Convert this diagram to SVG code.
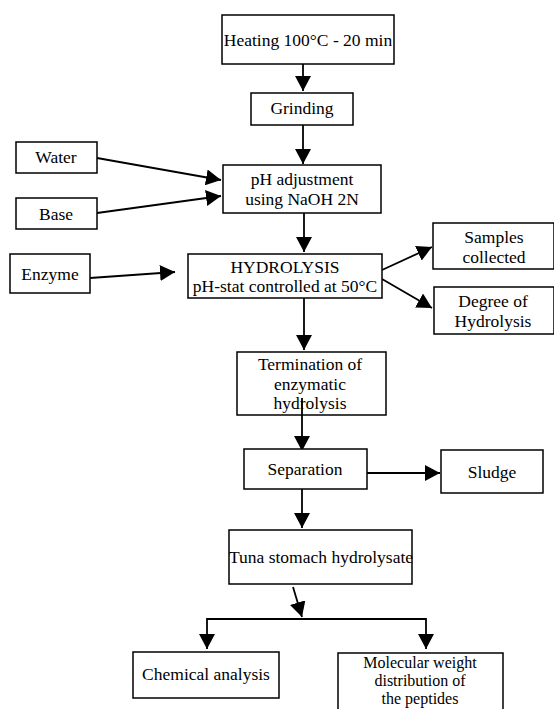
<svg xmlns="http://www.w3.org/2000/svg" width="554" height="709" viewBox="0 0 554 709">
<style>
.box{fill:#fff;stroke:#000;stroke-width:1.5}
.t{font-family:"Liberation Serif","Times New Roman",serif;font-size:17.5px;fill:#000;text-anchor:middle}
.s{font-size:16px}
.c{stroke:#000;stroke-width:1.8;fill:none}
.ca{stroke:#000;stroke-width:1.8;fill:none;marker-end:url(#ah)}
</style>
<defs>
<marker id="ah" viewBox="0 0 15 16" refX="15" refY="8" markerWidth="15" markerHeight="16" markerUnits="userSpaceOnUse" orient="auto">
<path d="M0,0 L15,8 L0,16 z" fill="#000"/>
</marker>
</defs>
<rect width="554" height="709" fill="#fff"/>
<g id="connectors">
<line class="ca" x1="303" y1="64" x2="303" y2="91"/>
<line class="ca" x1="303" y1="125" x2="303" y2="164"/>
<line class="ca" x1="97" y1="158" x2="221" y2="180"/>
<line class="ca" x1="97" y1="213" x2="221" y2="196"/>
<line class="ca" x1="304" y1="213" x2="304" y2="252"/>
<line class="ca" x1="90" y1="278" x2="175" y2="272"/>
<line class="ca" x1="382" y1="270" x2="432" y2="247"/>
<line class="ca" x1="382" y1="279" x2="432" y2="308"/>
<line class="ca" x1="304" y1="298" x2="304" y2="350"/>
<line class="ca" x1="302" y1="398" x2="302" y2="451"/>
<line class="ca" x1="367" y1="473" x2="440" y2="473"/>
<line class="ca" x1="302" y1="489" x2="302" y2="528"/>
<line class="ca" x1="293" y1="587" x2="302" y2="617"/>
<line class="c" x1="207" y1="619" x2="426" y2="619"/>
<line class="ca" x1="207" y1="618.1" x2="207" y2="649"/>
<line class="ca" x1="426" y1="618.1" x2="426" y2="649"/>
</g>
<g id="heating"><rect class="box" x="222" y="15" width="172" height="49"/><text class="t" x="308" y="46">Heating 100°C - 20 min</text></g>
<g id="grinding"><rect class="box" x="251" y="93" width="102" height="32"/><text class="t" x="302" y="114">Grinding</text></g>
<g id="water"><rect class="box" x="16" y="142" width="81" height="31"/><text class="t" x="56" y="163">Water</text></g>
<g id="base"><rect class="box" x="16" y="198" width="81" height="31"/><text class="t" x="56" y="220">Base</text></g>
<g id="ph"><rect class="box" x="223" y="165" width="158" height="48"/><text class="t" x="302" y="185">pH adjustment</text><text class="t" x="302" y="205">using NaOH 2N</text></g>
<g id="enzyme"><rect class="box" x="10" y="254" width="80" height="39"/><text class="t" x="50" y="280">Enzyme</text></g>
<g id="hydrolysis"><rect class="box" x="188" y="254" width="194" height="44"/><text class="t" x="285" y="273">HYDROLYSIS</text><text class="t" x="285" y="292">pH-stat controlled at 50°C</text></g>
<g id="samples"><rect class="box" x="433" y="223" width="121" height="46"/><text class="t" x="494" y="243">Samples</text><text class="t" x="494" y="263">collected</text></g>
<g id="degree"><rect class="box" x="434" y="287" width="120" height="47"/><text class="t" x="493" y="307">Degree of</text><text class="t" x="493" y="327">Hydrolysis</text></g>
<g id="termination"><rect class="box" x="237" y="352" width="149" height="63" style="fill:none"/><text class="t" x="310" y="370">Termination of</text><text class="t" x="310" y="390">enzymatic</text><text class="t" x="310" y="409">hydrolysis</text></g>
<g id="separation"><rect class="box" x="244" y="449" width="123" height="40"/><text class="t" x="305" y="475">Separation</text></g>
<g id="sludge"><rect class="box" x="441" y="450" width="102" height="43"/><text class="t" x="492" y="478">Sludge</text></g>
<g id="tuna"><rect class="box" x="229" y="530" width="183" height="54"/><text class="t" x="321" y="563">Tuna stomach hydrolysate</text></g>
<g id="chemical"><rect class="box" x="133" y="652" width="146" height="46"/><text class="t" x="206" y="680">Chemical analysis</text></g>
<g id="molecular"><rect class="box" x="338" y="653" width="165" height="70"/><text class="t s" x="420" y="668">Molecular weight</text><text class="t s" x="420" y="686">distribution of</text><text class="t s" x="420" y="704">the peptides</text></g>
</svg>
